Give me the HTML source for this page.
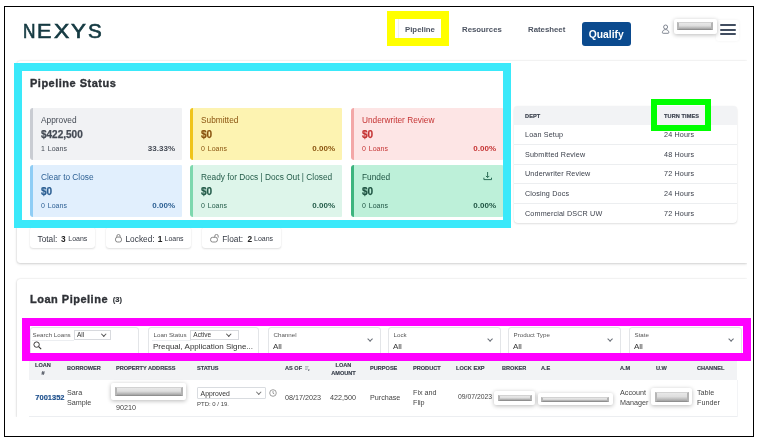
<!DOCTYPE html>
<html><head><meta charset="utf-8">
<style>
*{box-sizing:border-box;margin:0;padding:0}
html,body{width:759px;height:440px;overflow:hidden;background:#fff;font-family:"Liberation Sans",Arial,sans-serif;color:#333}
.a{position:absolute}
#frame{left:4px;top:6px;width:750px;height:431px;border:1px solid #000;z-index:50;pointer-events:none}
.logo{left:23px;top:21.5px;width:90px;height:20px;font:400 19.6px/1 "Liberation Sans",sans-serif;color:#153a42;-webkit-text-stroke:.65px #153a42}
.logo span{position:absolute;top:0;transform-origin:0 0}
.nav{font-size:7.8px;font-weight:700;color:#4d5462;top:24.6px}
.qual{left:582px;top:21.5px;width:48.5px;height:24.5px;background:#0b4a8e;border-radius:3px;color:#fff;font-weight:700;font-size:10.3px;text-align:center;line-height:25px}
.redact{background:#fff;box-shadow:0 1px 4px rgba(0,0,0,.28);border-radius:2px}
.bar{position:absolute;border-style:solid;border-color:#d2d2d2 #b3b3b3 #8f8f8f #b6b6b6;border-width:1.2px 2.5px 1.5px;background:linear-gradient(#e8e8e8,#dedede 45%,#c2c2c2 72%,#a2a2a2)}
.card{background:#fff;box-shadow:0 1px 3px rgba(0,0,0,.16),0 0 1.5px rgba(0,0,0,.16);border-radius:3px 0 0 3px;clip-path:inset(-6px 0 -6px -6px)}
.sc{position:absolute;width:152px;height:52px;border-radius:3px 1px 1px 3px;border-left:3px solid}
.sc .t{position:absolute;left:8px;top:7.2px;font-size:8.3px;letter-spacing:0}
.sc .v{position:absolute;left:8px;top:21px;font-size:10px;font-weight:700;-webkit-text-stroke:.25px currentColor}
.sc .l{position:absolute;left:8px;top:37.3px;font-size:7px;word-spacing:1px}
.sc .p{position:absolute;right:7px;top:36px;font-size:8px;font-weight:700}
.ann{position:absolute;z-index:40}
.th2{font-size:5.6px;font-weight:700;color:#3a404d;letter-spacing:.1px;-webkit-text-stroke:.15px #3a404d}
.tr2{left:514px;width:223px;height:20px;border-bottom:1px solid #eceef0;font-size:7.2px;color:#383d48;line-height:20px;letter-spacing:.15px}
.tr2 span{position:absolute;left:11px}
.tr2 span.h{left:150px}
.badge{top:227px;height:21px;background:#fff;border-radius:3px;box-shadow:0 1px 2px rgba(0,0,0,.12),0 0 1px rgba(0,0,0,.08);font-size:8.3px;color:#353a44;white-space:nowrap}
.badge>span,.badge>b,.badge>small{position:absolute;top:7.9px;line-height:1}
.badge b{font-weight:700;color:#222}
.badge small{font-size:7px;top:8.4px}
.flt{top:327px;height:30px;background:#fff;border:1px solid #e3e5e8;border-radius:3px}
.fl{position:absolute;left:4.5px;top:3px;font-size:6.2px;color:#555}
.fv{position:absolute;left:4px;top:13.5px;font-size:8px;color:#333}
.dd{position:absolute;top:2.2px;height:9.6px;border:1px solid #d8dade;font-size:6.5px;color:#333;padding-left:2px;line-height:7.4px}
.ul{position:absolute;top:11.8px;height:1px;background:#eceef1}
.chev{position:absolute;right:6px;top:.4px;width:3.5px;height:3.5px;border-right:1px solid #555;border-bottom:1px solid #555;transform:rotate(45deg)}
.chev2{position:absolute;right:7.5px;top:9px;width:4.2px;height:4.2px;border-right:1px solid #6a6f78;border-bottom:1px solid #6a6f78;transform:rotate(45deg)}
.th{font-size:5.6px;font-weight:700;color:#3a404d;white-space:nowrap;-webkit-text-stroke:.15px #3a404d}
.td{font-size:7.2px;color:#444;white-space:nowrap}
</style></head><body>
<div id="frame" class="a"></div>

<!-- header -->
<div class="a logo"><span style="left:0;transform:scaleX(.88)">N</span><span style="left:13.6px;transform:scaleX(1.1)">E</span><span style="left:30.8px;transform:scaleX(1.17)">X</span><span style="left:48.2px;transform:scaleX(1.14)">Y</span><span style="left:65.3px;transform:scaleX(1.05)">S</span></div>
<div class="a" style="left:398px;top:19px;width:1px;height:19px;background:#eef0f3"></div>
<div class="a nav" style="left:405px">Pipeline</div>
<div class="a nav" style="left:462px">Resources</div>
<div class="a nav" style="left:528px">Ratesheet</div>
<div class="a qual">Qualify</div>
<svg class="a" style="left:661px;top:23.5px" width="9" height="10" viewBox="0 0 9 10"><circle cx="4.6" cy="3" r="2" fill="none" stroke="#6b7380" stroke-width=".85"/><path d="M1.4 8.6C1.4 6.6 2.9 5.6 4.6 5.6S7.8 6.6 7.8 8.6Q7.8 9.3 7 9.3H2.2Q1.4 9.3 1.4 8.6Z" fill="none" stroke="#6b7380" stroke-width=".85"/></svg>
<div class="a" style="left:716px;top:20px;width:23px;height:21px;background:#fff;border-radius:3px;box-shadow:0 0 3px rgba(0,0,0,.06)"></div>
<div class="a" style="left:720px;top:24px;width:15.5px;height:2px;background:#414d60;border-radius:1px"></div>
<div class="a" style="left:720px;top:28.7px;width:15.5px;height:2px;background:#414d60;border-radius:1px"></div>
<div class="a" style="left:720px;top:33.4px;width:15.5px;height:2px;background:#414d60;border-radius:1px"></div>
<div class="a redact" style="left:673.5px;top:18.5px;width:43px;height:15.5px"><div class="bar" style="left:3.5px;top:3.5px;width:36px;height:8px"></div></div>

<!-- Pipeline status card -->
<div class="a card" style="left:17px;top:61px;width:730px;height:202px"></div>
<div class="a" style="left:30px;top:77.5px;font-size:11px;line-height:1;letter-spacing:.5px;font-weight:700;color:#2f3237;-webkit-text-stroke:.35px #2f3237">Pipeline Status</div>

<div class="sc" style="left:30px;top:108px;background:#f1f2f4;border-color:#c9ccd2;color:#454b55">
 <div class="t">Approved</div><div class="v">$422,500</div><div class="l">1 Loans</div><div class="p">33.33%</div></div>
<div class="sc" style="left:190px;top:108px;background:#fdf3b1;border-color:#f0c419;color:#8a5410">
 <div class="t">Submitted</div><div class="v">$0</div><div class="l">0 Loans</div><div class="p">0.00%</div></div>
<div class="sc" style="left:351px;top:108px;background:#fde5e5;border-color:#f3a7a7;color:#c53333">
 <div class="t">Underwriter Review</div><div class="v">$0</div><div class="l">0 Loans</div><div class="p">0.00%</div></div>
<div class="sc" style="left:30px;top:165px;background:#e1effd;border-color:#8fcdf5;color:#2c5f93">
 <div class="t">Clear to Close</div><div class="v">$0</div><div class="l">0 Loans</div><div class="p">0.00%</div></div>
<div class="sc" style="left:190px;top:165px;background:#ddf5ea;border-color:#7dd8ae;color:#245c4a">
 <div class="t">Ready for Docs | Docs Out | Closed</div><div class="v">$0</div><div class="l">0 Loans</div><div class="p">0.00%</div></div>
<div class="sc" style="left:351px;top:165px;background:#bdf0d9;border-color:#3cb47e;color:#1f5443">
 <div class="t">Funded</div><div class="v">$0</div><div class="l">0 Loans</div><div class="p">0.00%</div></div>

<!-- funded download icon -->
<svg class="a" style="left:483px;top:171px" width="10" height="10" viewBox="0 0 10 10"><path d="M4.6 1V6.3M2.9 4.9L4.6 6.6 6.3 4.9M0.9 6.7V8.6H8.5V6.7" fill="none" stroke="#236650" stroke-width=".95"/></svg>

<!-- turn times table -->
<div class="a tt" style="left:514px;top:106px;width:223px;height:117px;background:#fff;border-radius:4px;box-shadow:0 1px 2px rgba(0,0,0,.12),0 0 1px rgba(0,0,0,.08)"></div>
<div class="a" style="left:514px;top:106px;width:223px;height:19px;background:#f2f3f5;border-radius:4px 4px 0 0"></div>
<div class="a th2" style="left:525px;top:113px">DEPT</div>
<div class="a th2" style="left:664px;top:113px">TURN TIMES</div>
<div class="a tr2" style="top:125px"><span>Loan Setup</span><span class="h">24 Hours</span></div>
<div class="a tr2" style="top:145px"><span>Submitted Review</span><span class="h">48 Hours</span></div>
<div class="a tr2" style="top:164px"><span>Underwriter Review</span><span class="h">72 Hours</span></div>
<div class="a tr2" style="top:184px"><span>Closing Docs</span><span class="h">24 Hours</span></div>
<div class="a tr2" style="top:204px;border-bottom:none"><span>Commercial DSCR UW</span><span class="h">72 Hours</span></div>

<!-- badges -->
<div class="a badge" style="left:30px;width:65px"><span class="bt" style="left:7.5px">Total:</span><b style="left:31px">3</b><small style="left:38.3px">Loans</small></div>
<div class="a badge" style="left:106px;width:85px">
 <svg class="a" style="left:8.5px;top:7px" width="7" height="8.5" viewBox="0 0 7 8.5"><path d="M1.9 3.2V2.1a1.6 1.6 0 0 1 3.2 0V3.2" fill="none" stroke="#7a7a7a" stroke-width=".9"/><rect x=".5" y="3.1" width="6" height="4.9" rx="2" fill="none" stroke="#7a7a7a" stroke-width=".9"/></svg>
 <span class="bt" style="left:19.5px">Locked:</span><b style="left:51.8px">1</b><small style="left:58.5px">Loans</small></div>
<div class="a badge" style="left:202px;width:79px">
 <svg class="a" style="left:7.6px;top:7px" width="9" height="8.5" viewBox="0 0 9 8.5"><path d="M4.8 3.3V2.1a1.7 1.7 0 0 1 3.4 0V3.6" fill="none" stroke="#7a7a7a" stroke-width=".9"/><rect x=".6" y="3.3" width="6.8" height="4.7" rx="2" fill="none" stroke="#7a7a7a" stroke-width=".9"/></svg>
 <span class="bt" style="left:20.3px">Float:</span><b style="left:45.5px">2</b><small style="left:52px">Loans</small></div>

<!-- annotations -->
<div class="ann" style="left:387px;top:11px;width:62px;height:35px;border:8px solid #ffff00"></div>
<div class="ann" style="left:14px;top:63px;width:497px;height:165px;border:8px solid #3ae9fa"></div>
<div class="ann" style="left:651px;top:99px;width:60px;height:32px;border:6px solid #00ff00"></div>
<div class="ann" style="left:22px;top:318px;width:729px;height:43px;border:8px solid #ff00ff"></div>

<!-- Loan pipeline card -->
<div class="a card" style="left:17px;top:278.5px;width:730px;height:138.5px;border-radius:3px 0 0 0;clip-path:inset(-6px 0 0 -6px)"></div>
<div class="a" style="left:30px;top:293.5px;font-size:11px;line-height:1;letter-spacing:.5px;font-weight:700;color:#2f3237;-webkit-text-stroke:.35px #2f3237;white-space:nowrap">Loan Pipeline <span style="font-size:7.5px;letter-spacing:0;margin-left:1.2px;vertical-align:1px;-webkit-text-stroke:.15px #2f3237">(3)</span></div>

<!-- filters -->
<div class="a flt" style="left:30px;width:109px">
 <div class="fl" style="left:1.5px">Search Loans</div><i class="ul" style="left:1px;width:42px"></i><div class="dd" style="left:43px;width:36.5px">All<i class="chev" style="right:4.5px"></i></div>
 <svg class="a" style="left:2px;top:13px" width="9" height="9" viewBox="0 0 9 9"><circle cx="3.6" cy="3.6" r="2.7" fill="none" stroke="#333" stroke-width=".95"/><path d="M5.6 5.6L8.2 8.2" stroke="#333" stroke-width="1.05"/></svg>
</div>
<div class="a flt" style="left:148px;width:111px">
 <div class="fl">Loan Status</div><i class="ul" style="left:3px;width:39px"></i><div class="dd" style="left:41.3px;width:48.6px">Active<i class="chev" style="right:7px"></i></div>
 <div class="fv">Prequal, Application Signe...</div>
</div>
<div class="a flt" style="left:268px;width:113px"><div class="fl">Channel</div><div class="fv">All</div><i class="chev2"></i></div>
<div class="a flt" style="left:388px;width:113px"><div class="fl">Lock</div><div class="fv">All</div><i class="chev2"></i></div>
<div class="a flt" style="left:508px;width:113px"><div class="fl">Product Type</div><div class="fv">All</div><i class="chev2"></i></div>
<div class="a flt" style="left:629px;width:113px"><div class="fl">State</div><div class="fv">All</div><i class="chev2"></i></div>

<!-- loan table -->
<div class="a" style="left:29px;top:358px;width:708px;height:21.6px;background:#f2f3f5"></div>
<div class="a" style="left:29px;top:379.6px;width:708px;height:37.4px;border-bottom:1px solid #eceef1;background:#fff;box-shadow:1px 0 0 #f3f4f6"></div>
<div class="a th" style="left:35px;top:361px;text-align:center;width:16px;line-height:8px">LOAN<br>#</div>
<div class="a th" style="left:67px;top:365px">BORROWER</div>
<div class="a th" style="left:116px;top:365px">PROPERTY ADDRESS</div>
<div class="a th" style="left:197px;top:365px">STATUS</div>
<div class="a th" style="left:285px;top:365px">AS OF</div>
<svg class="a" style="left:304.5px;top:365.8px" width="5" height="5.5" viewBox="0 0 5 5.5"><path d="M0 .6H3.6M0 2H3M0 3.4H2.2" stroke="#a9adb4" stroke-width=".9"/><path d="M2.6 3.6H4.8L3.7 5.2Z" fill="#5a606b"/></svg>
<div class="a th" style="left:330px;top:361px;text-align:center;width:27px;line-height:8px">LOAN<br>AMOUNT</div>
<div class="a th" style="left:370px;top:365px">PURPOSE</div>
<div class="a th" style="left:413px;top:365px">PRODUCT</div>
<div class="a th" style="left:456px;top:365px">LOCK EXP</div>
<div class="a th" style="left:502px;top:365px">BROKER</div>
<div class="a th" style="left:541px;top:365px">A.E</div>
<div class="a th" style="left:620px;top:365px">A.M</div>
<div class="a th" style="left:656px;top:365px">U.W</div>
<div class="a th" style="left:697px;top:365px">CHANNEL</div>

<div class="a td" style="left:35.3px;top:392.6px;font-size:7.5px;font-weight:700;color:#1d4f8c;-webkit-text-stroke:.15px #1d4f8c">7001352</div>
<div class="a td" style="left:67px;top:388px;line-height:9.5px">Sara<br>Sample</div>
<div class="a td" style="left:116px;top:403px">90210</div>
<div class="a" style="left:197.3px;top:386.5px;width:68.5px;height:12.3px;border:1px solid #d9dce0;border-radius:1px;font-size:6.8px;color:#333;padding:2px 0 0 2.3px">Approved<i class="chev" style="right:4.5px;top:2.6px;border-color:#777;border-width:0 .8px .8px 0"></i></div>
<svg class="a" style="left:269px;top:389px" width="8" height="8" viewBox="0 0 8 8"><circle cx="4" cy="4" r="3.3" fill="none" stroke="#777" stroke-width=".7"/><path d="M4 2v2.2l1.3.8" fill="none" stroke="#777" stroke-width=".7"/></svg>
<div class="a" style="left:197px;top:400.8px;font-size:6px;color:#444">PTD: 0 / 19.</div>
<div class="a td" style="left:285px;top:393px">08/17/2023</div>
<div class="a td" style="left:330px;top:393px">422,500</div>
<div class="a td" style="left:370px;top:393px">Purchase</div>
<div class="a td" style="left:413px;top:388px;line-height:9.5px">Fix and<br>Flip</div>
<div class="a td" style="left:458px;top:393.3px;font-size:6.8px">09/07/2023</div>
<div class="a td" style="left:620px;top:388px;line-height:9.5px">Account<br>Manager</div>
<div class="a td" style="left:697px;top:388px;line-height:9.5px">Table<br>Funder</div>

<!-- redaction boxes -->
<div class="a redact" style="left:111px;top:383px;width:75px;height:17px"><div class="bar" style="left:4px;top:4px;width:68px;height:9px"></div></div>
<div class="a redact" style="left:494px;top:391px;width:41px;height:13.5px"><div class="bar" style="left:4px;top:4px;width:33.5px;height:6px"></div></div>
<div class="a redact" style="left:537.5px;top:392.5px;width:75px;height:12.5px"><div class="bar" style="left:3.5px;top:4px;width:68px;height:5px"></div></div>
<div class="a redact" style="left:651px;top:388px;width:40.5px;height:17px"><div class="bar" style="left:3.5px;top:3.5px;width:34px;height:10px"></div></div>

</body></html>
